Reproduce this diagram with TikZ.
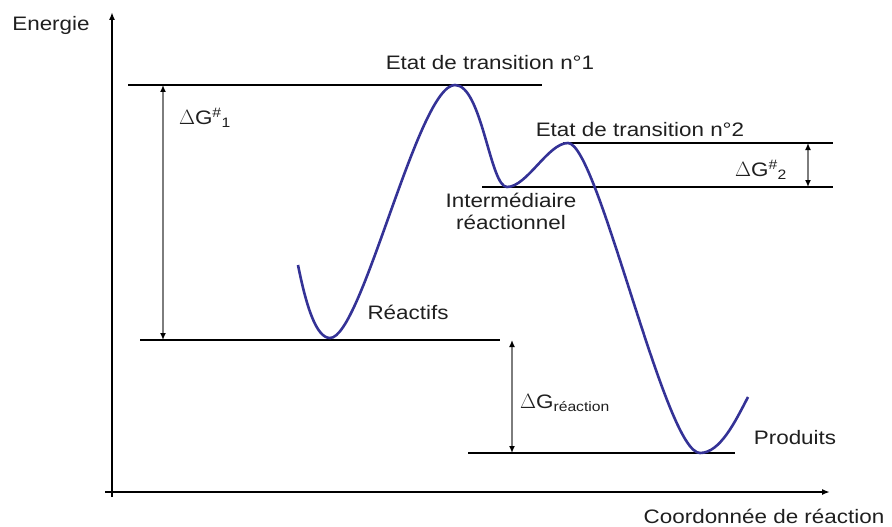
\documentclass[tikz,border=0pt]{standalone}
\usepackage{fontspec}
\setmainfont{Liberation Sans}[FakeStretch=1.15]
\usetikzlibrary{arrows.meta, math}
\definecolor{curveblue}{RGB}{52,50,150}
\definecolor{gapgray}{RGB}{125,125,125}

\begin{document}
\begin{tikzpicture}[x=1pt, y=-1pt,
  lbl/.style={font=\fontsize{19.5}{22}\selectfont, text=black!88, inner sep=0pt},
  axis/.style={line width=2pt},
  level/.style={line width=1.3pt},
  gap/.style={gapgray, line width=1.5pt,
    {Latex[length=7pt,width=6pt,color=black]}-{Latex[length=7pt,width=6pt,color=black]}},
  curve/.style={curveblue, line width=2.6pt}]
\tikzmath{
\yts=85;
\yreac=340;
\ytsb=143;
\yint=187;
\yprod=453;
\yaxis=492;
}
\useasboundingbox (0,0) rectangle (892,527);

% axes
\coordinate (ytop) at (112,12);
\coordinate (ybot) at (112,497);
\coordinate (xleft) at (105,\yaxis);
\coordinate (xright) at (830,\yaxis);
\draw[axis, -{Latex[length=8pt,width=6pt]}] (ybot) -- (ytop);
\draw[axis, -{Latex[length=8pt,width=6pt]}] (xleft) -- (xright);
\node[lbl] (energie) at (51,25) {Energie};
\node[lbl] (coord) at (764,516) {Coordonnée de réaction};

% levels
\coordinate (tsa) at (128,\yts);   \coordinate (tsb) at (542,\yts);
\coordinate (rea) at (140,\yreac); \coordinate (reb) at (500,\yreac);
\coordinate (tta) at (563,\ytsb);  \coordinate (ttb) at (833,\ytsb);
\coordinate (ina) at (482,\yint);  \coordinate (inb) at (833,\yint);
\coordinate (pra) at (468,\yprod); \coordinate (prb) at (735,\yprod);
\draw[level] (tsa) -- (tsb);
\draw[level] (rea) -- (reb);
\draw[level] (tta) -- (ttb);
\draw[level] (ina) -- (inb);
\draw[level] (pra) -- (prb);

% energy differences
\coordinate (ga) at (163,\yts);  \coordinate (gb) at (163,\yreac);
\coordinate (ha) at (808,\ytsb); \coordinate (hb) at (808,\yint);
\coordinate (ra) at (512,\yreac); \coordinate (rb) at (512,\yprod);
\draw[gap] (ga) -- (gb);
\draw[gap] (ha) -- (hb);
\draw[gap] (ra) -- (rb);

% reaction path
\draw[curve] (298,265) .. controls (306,305) and (316,338) .. (330,338)
  .. controls (362,338) and (418,\yts) .. (455,\yts)
  .. controls (482,\yts) and (490,\yint) .. (507,\yint)
  .. controls (527,\yint) and (548,\ytsb) .. (568,\ytsb)
  .. controls (598,\ytsb) and (665,\yprod) .. (700,\yprod)
  .. controls (720,\yprod) and (735,422) .. (748,397);

% labels
\node[lbl] (ts1) at (490,63) {Etat de transition n°1};
\node[lbl] (ts2) at (640,130) {Etat de transition n°2};
\node[lbl, align=center] (inter) at (511,211) {Intermédiaire\\réactionnel};
\node[lbl] (reac) at (408,312) {Réactifs};
\node[lbl] (prod) at (795,438) {Produits};
\node[lbl] (dg1) at (205,118) {$\Delta$G\textsuperscript{\#}\textsubscript{1}};
\node[lbl] (dg2) at (761,170) {$\Delta$G\textsuperscript{\#}\textsubscript{2}};
\node[lbl] (dgr) at (565,403) {$\Delta$G\textsubscript{réaction}};
\end{tikzpicture}
\end{document}
